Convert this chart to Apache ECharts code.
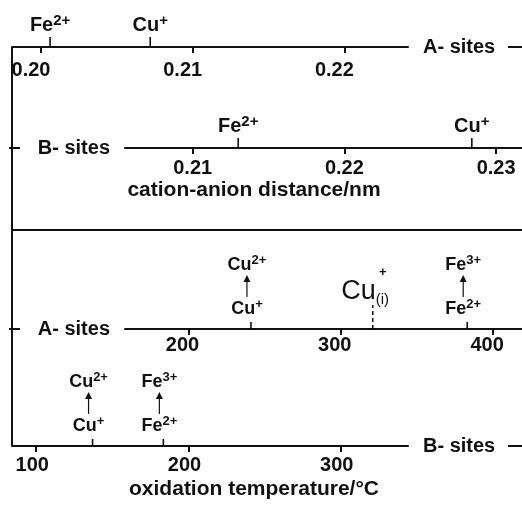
<!DOCTYPE html>
<html>
<head>
<meta charset="utf-8">
<script src="https://cdn.jsdelivr.net/npm/echarts@6/dist/echarts.min.js"></script>
<style>html,body{margin:0;background:#fff}#chart{width:522px;height:505px}</style>
</head>
<body>
<div id="chart"></div>
<script>
// ---- data ----
const distTicks = [0.20, 0.21, 0.22, 0.23];
const distTickLabels = ['0.20', '0.21', '0.22', '0.23'];
const tempTicks = [100, 200, 300, 400];
const tempTickLabels = ['100', '200', '300', '400'];

// cation-anion distance (nm)
const distAValues = [0.2006, 0.2072];
const distAIons = ['Fe2+', 'Cu+'];
const distBValues = [0.2130, 0.2284];
const distBIons = ['Fe2+', 'Cu+'];

// oxidation temperature (°C)
const tempAValues = [241, 383];
const tempAFrom = ['Cu+', 'Fe2+'];
const tempATo = ['Cu2+', 'Fe3+'];
const tempBValues = [137, 183.5];
const tempBFrom = ['Cu+', 'Fe2+'];
const tempBTo = ['Cu2+', 'Fe3+'];
const interstitialTemp = [321];

const siteNames = ['A- sites', 'B- sites'];
const distTitle = 'cation-anion distance/nm';
const tempTitle = 'oxidation temperature/°C';

// ---- layout ----
const INK = '#111';
const FF = "'Liberation Sans', Arial, Helvetica, sans-serif";
// both rows of a panel share one scale: value v0 sits at pixel x0, k px per unit
const distScale = { v0: 0.20, x0: 41, k: 15170 };
const tempScale = { v0: 200, x0: 188.5, k: 1.523 };
const valAt = (s, px) => s.v0 + (px - s.x0) / s.k;

const rows = [
  { y: 47,  l: 12,  r: 408, s: distScale, ticks: distTicks, labels: distTickLabels, name: siteNames[0], loc: 'end',   margin: 13, shift: -10 },
  { y: 148, l: 125, r: 522, s: distScale, ticks: distTicks, labels: distTickLabels, name: siteNames[1], loc: 'start', margin: 10, shift: 0 },
  { y: 329, l: 125, r: 522, s: tempScale, ticks: tempTicks, labels: tempTickLabels, name: siteNames[0], loc: 'start', margin: 6,  shift: -6 },
  { y: 446, l: 12,  r: 408, s: tempScale, ticks: tempTicks, labels: tempTickLabels, name: siteNames[1], loc: 'end',   margin: 9,  shift: -4 }
];

const ionRich = ion => {
  const m = ion.match(/^([A-Za-z]+)(.*)$/);
  return `{b|${m[1]}}{s|${m[2]}}`;
};
const richBig = {
  b: { fontSize: 20, fontWeight: 'bold', lineHeight: 24, fontFamily: FF, fill: INK },
  s: { fontSize: 15, fontWeight: 'bold', lineHeight: 15, verticalAlign: 'top', fontFamily: FF, fill: INK }
};
const richSmall = {
  b: { fontSize: 18, fontWeight: 'bold', lineHeight: 22, fontFamily: FF, fill: INK },
  s: { fontSize: 13, fontWeight: 'bold', lineHeight: 13, verticalAlign: 'top', fontFamily: FF, fill: INK }
};
const line = (x1, y1, x2, y2, w, dash) => ({ type: 'line', shape: { x1, y1, x2, y2 },
  style: { stroke: INK, lineWidth: w || 2, lineDash: dash || null } });

// distance markers: upward tick + ion label
const ionMarks = ions => (params, api) => {
  const p = api.coord([api.value(0), 0]), i = api.value(2);
  return { type: 'group', children: [
    line(p[0], p[1], p[0], p[1] - 10, 1.6),
    { type: 'text', x: p[0], y: p[1] - 10,
      style: { text: ionRich(ions[i]), rich: richBig, align: 'center', verticalAlign: 'bottom' } }
  ] };
};
// temperature markers: tick, lower ion, arrow, oxidised ion
const oxMarks = (from, to) => (params, api) => {
  const p = api.coord([api.value(0), 0]), i = api.value(2), x = p[0] - 4, y = p[1];
  return { type: 'group', children: [
    line(p[0], y, p[0], y - 7, 1.6),
    { type: 'text', x: x, y: y - 9,
      style: { text: ionRich(from[i]), rich: richSmall, align: 'center', verticalAlign: 'bottom' } },
    line(x, y - 32, x, y - 47, 1.2),
    { type: 'polygon', shape: { points: [[x - 3.5, y - 47], [x + 3.5, y - 47], [x, y - 54]] }, style: { fill: INK } },
    { type: 'text', x: x, y: y - 53,
      style: { text: ionRich(to[i]), rich: richSmall, align: 'center', verticalAlign: 'bottom' } }
  ] };
};
const interstitialMark = (params, api) => {
  const p = api.coord([api.value(0), 0]), x = p[0], y = p[1];
  return { type: 'group', children: [
    line(x, y, x, y - 24, 1.5, [4, 3]),
    { type: 'text', x: x + 3, y: y - 37, style: { text: 'Cu', font: `27px ${FF}`, fill: INK, align: 'right', verticalAlign: 'middle' } },
    { type: 'text', x: x + 3, y: y - 37, style: { text: '(i)', font: `15px ${FF}`, fill: INK, align: 'left', verticalAlign: 'top' } },
    { type: 'text', x: x + 10, y: y - 57, style: { text: '+', font: `bold 13px ${FF}`, fill: INK, align: 'center', verticalAlign: 'middle' } }
  ] };
};

const chart = echarts.init(document.getElementById('chart'), null, { renderer: 'canvas' });
chart.setOption({
  animation: false,
  backgroundColor: '#fff',
  grid: rows.map(r => ({ left: r.l, width: r.r - r.l, top: r.y - 30, height: 30, containLabel: false })),
  xAxis: rows.map((r, i) => {
    const min = valAt(r.s, r.l), max = valAt(r.s, r.r);
    const shown = r.ticks.filter(v => v >= min && v <= max);
    return {
      gridIndex: i, type: 'value', min, max, position: 'bottom',
      name: r.name, nameLocation: r.loc, nameGap: 15,
      nameTextStyle: { color: INK, fontSize: 20, fontWeight: 'bold', fontFamily: FF, verticalAlign: 'middle' },
      axisLine: { lineStyle: { color: INK, width: 2 } },
      axisTick: { customValues: shown, length: 6, lineStyle: { color: INK, width: 2 } },
      axisLabel: { customValues: shown, formatter: v => r.labels[r.ticks.indexOf(v)],
        margin: r.margin, color: INK, fontSize: 20, fontWeight: 'bold', fontFamily: FF, lineHeight: 20,
        padding: r.shift < 0 ? [0, -2 * r.shift, 0, 0] : [0, 0, 0, 2 * r.shift] },
      splitLine: { show: false }
    };
  }),
  yAxis: rows.map((r, i) => ({ gridIndex: i, type: 'value', min: 0, max: 1, show: false })),
  series: [
    { type: 'custom', xAxisIndex: 0, yAxisIndex: 0, data: distAValues.map((v, i) => [v, 0, i]), renderItem: ionMarks(distAIons) },
    { type: 'custom', xAxisIndex: 1, yAxisIndex: 1, data: distBValues.map((v, i) => [v, 0, i]), renderItem: ionMarks(distBIons) },
    { type: 'custom', xAxisIndex: 2, yAxisIndex: 2, data: tempAValues.map((v, i) => [v, 0, i]), renderItem: oxMarks(tempAFrom, tempATo) },
    { type: 'custom', xAxisIndex: 2, yAxisIndex: 2, data: interstitialTemp.map((v, i) => [v, 0, i]), renderItem: interstitialMark },
    { type: 'custom', xAxisIndex: 3, yAxisIndex: 3, data: tempBValues.map((v, i) => [v, 0, i]), renderItem: oxMarks(tempBFrom, tempBTo) }
  ],
  graphic: [
    line(12, 47, 12, 446),
    line(12, 230, 522, 230),
    line(9, 148, 20, 148), line(9, 329, 20, 329),
    line(508, 47, 522, 47), line(508, 446, 522, 446),
    { type: 'text', x: 254, y: 190, style: { text: distTitle, font: `bold 21px ${FF}`, fill: INK, align: 'center', verticalAlign: 'middle' } },
    { type: 'text', x: 254, y: 489, style: { text: tempTitle, font: `bold 21px ${FF}`, fill: INK, align: 'center', verticalAlign: 'middle' } }
  ]
});
</script>
</body>
</html>
